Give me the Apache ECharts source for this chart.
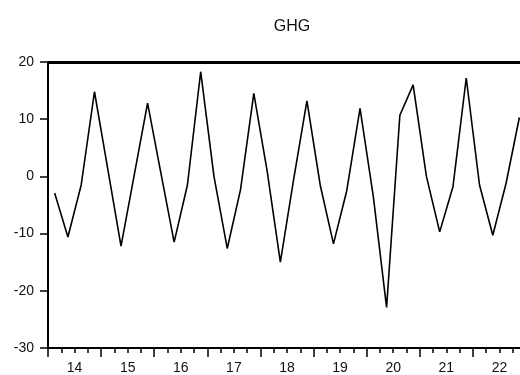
<!DOCTYPE html>
<html>
<head>
<meta charset="utf-8">
<script src="https://cdn.jsdelivr.net/npm/echarts@6/dist/echarts.min.js"></script>
<style>
  html, body { margin: 0; padding: 0; background: #fff; overflow: hidden; }
  /* plot runs past the right edge of the picture, as in the original */
  #chart { width: 526px; height: 375px; }
</style>
</head>
<body>
<div id="chart"></div>
<script>
// quarterly GHG, 2014Q1 .. 2022Q4
const years = ['14', '15', '16', '17', '18', '19', '20', '21', '22']
const quarters = []
years.forEach(y => {
  for (let q = 1; q <= 4; q++) quarters.push(y + 'Q' + q)
})
const ghg = [
  -2.9, -10.6, -1.5, 14.8,
  1.3, -12.2, 0.3, 12.8,
  0.6, -11.5, -1.5, 18.3,
  0, -12.6, -2.3, 14.5,
  1.0, -15.0, -0.5, 13.2,
  -1.5, -11.8, -2.5, 11.9,
  -3.5, -22.9, 10.7, 16.0,
  0, -9.7, -1.8, 17.2,
  -1.5, -10.3, -1.2, 10.3
]
const yTicks = { min: -30, max: 20, step: 10 }

const chart = echarts.init(document.getElementById('chart'))
const font = 'Liberation Sans, Arial, sans-serif'

chart.setOption({
  animation: false,
  title: {
    text: 'GHG',
    left: 287,
    top: 14,
    textAlign: 'center',
    textStyle: { fontFamily: font, fontSize: 16, fontWeight: 'normal', color: '#111' }
  },
  grid: { left: 48, top: 62, bottom: 27, right: 0 },
  xAxis: [
    {
      type: 'category',
      data: quarters,
      axisLine: { show: true, onZero: false, lineStyle: { color: '#000', width: 2 } },
      axisTick: { show: true, interval: 0, length: 5, lineStyle: { color: '#000', width: 1.5 } },
      axisLabel: { show: false },
      splitLine: { show: false }
    },
    {
      type: 'category',
      data: years,
      position: 'bottom',
      axisLine: { show: true, onZero: false, lineStyle: { color: '#000', width: 2 } },
      axisTick: { show: true, interval: 0, length: 9, lineStyle: { color: '#000', width: 1.5 } },
      axisLabel: { interval: 0, margin: 13, fontFamily: font, fontSize: 14, color: '#111' },
      splitLine: { show: false }
    }
  ],
  yAxis: {
    type: 'value',
    min: yTicks.min,
    max: yTicks.max,
    interval: yTicks.step,
    axisLine: { show: true, onZero: false, lineStyle: { color: '#000', width: 2 } },
    axisTick: { show: true, length: 8, lineStyle: { color: '#000', width: 1.5 } },
    axisLabel: { margin: 14, fontFamily: font, fontSize: 14, color: '#111' },
    splitLine: { show: false }
  },
  series: [{
    type: 'line',
    xAxisIndex: 0,
    data: ghg,
    symbol: 'none',
    lineStyle: { color: '#000', width: 1.6 },
    // frame lines: heavy along the top, plain along the bottom
    markLine: {
      silent: true,
      symbol: 'none',
      label: { show: false },
      lineStyle: { color: '#000', type: 'solid' },
      data: [
        { yAxis: yTicks.max, lineStyle: { width: 3 } },
        { yAxis: yTicks.min, lineStyle: { width: 2 } }
      ]
    }
  }]
})
</script>
</body>
</html>
